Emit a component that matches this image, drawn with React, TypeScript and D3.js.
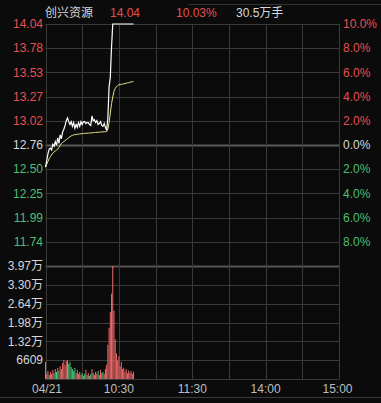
import React from "react";
import * as d3 from "d3";

const W = 381;
const H = 403;

const stockName = "创兴资源";
const lastPrice = "14.04";
const lastPct = "10.03%";
const totalVol = "30.5万手";
const preClose = 12.7636;

const priceTickLabels = ["14.04", "13.78", "13.53", "13.27", "13.02", "12.76", "12.50", "12.25", "11.99", "11.74"];
const pctTickValues = [10, 8, 6, 4, 2, 0, -2, -4, -6, -8];
const pctTickLabels = ["10.0%", "8.0%", "6.0%", "4.0%", "2.0%", "0.0%", "2.0%", "4.0%", "6.0%", "8.0%"];
const volTickValues = [39700, 33000, 26400, 19800, 13200, 6609];
const volTickLabels = ["3.97万", "3.30万", "2.64万", "1.98万", "1.32万", "6609"];
const timeTickMinutes = [0, 60, 120, 180, 240];
const timeTickLabels = ["04/21", "10:30", "11:30", "14:00", "15:00"];

// minute-by-minute price (from 9:30)
const prices = [
  12.53, 12.6, 12.67, 12.72, 12.73, 12.71, 12.77, 12.75, 12.8, 12.76,
  12.84, 12.78, 12.87, 12.83, 12.9, 12.93, 12.97, 13.02, 13.05, 13.01,
  12.98, 13.01, 12.96, 13.0, 12.94, 12.98, 12.95, 13.0, 12.96, 13.01,
  12.98, 13.01, 13.01, 12.99, 13.0, 13.0, 12.98, 12.97, 13.07, 13.02,
  13.03, 13.0, 13.02, 12.98, 12.99, 13.01, 12.97, 12.96, 12.99, 12.95,
  12.92, 13.05, 13.38, 13.48, 13.8, 14.04, 14.04, 14.04, 14.04, 14.04,
  14.04, 14.04, 14.04, 14.04, 14.04, 14.04, 14.04, 14.04, 14.04, 14.04,
  14.04, 14.04, 14.04,
];

const avgPrices = [
  12.53, 12.56, 12.59, 12.62, 12.64, 12.66, 12.68, 12.69, 12.7, 12.71,
  12.72, 12.74, 12.76, 12.78, 12.79, 12.8, 12.81, 12.82, 12.83, 12.84,
  12.85, 12.86, 12.865, 12.87, 12.872, 12.875, 12.877, 12.879, 12.88, 12.882,
  12.884, 12.885, 12.886, 12.887, 12.888, 12.889, 12.89, 12.89, 12.892, 12.894,
  12.895, 12.896, 12.897, 12.898, 12.899, 12.9, 12.901, 12.902, 12.903, 12.904,
  12.905, 12.93, 13.0, 13.1, 13.2, 13.27, 13.33, 13.36, 13.38, 13.39,
  13.4, 13.4, 13.405, 13.405, 13.41, 13.41, 13.415, 13.42, 13.42, 13.425,
  13.43, 13.43, 13.435,
];

const volumes = [
  6000, 1800, 2800, 1400, 2500, 1800, 3200, 2100, 3500, 2500,
  3900, 2800, 4500, 3500, 5600, 6700, 4900, 6300, 6600, 5300,
  6000, 4200, 3500, 2800, 3900, 2100, 3200, 1800, 2500, 1400,
  2100, 1100, 1800, 3200, 1400, 2100, 1100, 1800, 3500, 2100,
  1400, 2500, 1800, 2800, 1400, 3200, 2100, 2500, 1800, 3500,
  5000, 12000, 18000, 23500, 30000, 39700, 24000, 14000, 9000, 6500,
  8000, 4500, 6000, 3500, 4000, 2500, 3500, 2000, 3000, 2200,
  2800, 1800, 2600,
];

// 1 = up (red), 0 = down (green)
const volDir = [
  1, 1, 1, 0, 1, 0, 1, 0, 1, 0,
  1, 0, 1, 0, 1, 1, 1, 1, 0, 0,
  0, 0, 0, 0, 0, 1, 0, 1, 0, 1,
  0, 1, 0, 1, 0, 1, 0, 0, 1, 0,
  1, 0, 1, 0, 1, 1, 0, 0, 1, 0,
  1, 1, 1, 1, 1, 1, 1, 1, 1, 1,
  1, 1, 1, 1, 1, 1, 1, 1, 1, 1,
  1, 1, 1,
];

const BG = "#0b0b0b";
const GRID = "#3a3a3a";
const RED = "#e5504f";
const GREEN = "#4fbf73";
const WHITE = "#d8d8d8";
const FONT = "'Liberation Sans', Arial, 'Noto Sans CJK SC', sans-serif";

export default function App() {
  const left = 45.5;
  const right = 339;
  const priceTop = 24;
  const priceBottom = 266;
  const volTop = 266;
  const volBottom = 379;

  const x = d3.scaleLinear().domain([0, 240]).range([left, right]);
  const yPrice = d3.scaleLinear().domain([preClose * 0.9, preClose * 1.1]).range([priceBottom, priceTop]);
  const yPct = d3.scaleLinear().domain([-10, 10]).range([priceBottom, priceTop]);
  const yVol = d3.scaleLinear().domain([0, 39700]).range([volBottom, volTop]);

  const priceLine = d3.line<number>().x((_, i) => x(i)).y((d) => yPrice(d));
  const verticals = d3.range(0, 241, 30);

  const tickColor = (v: number) => (v > 0 ? RED : v < 0 ? GREEN : WHITE);

  return (
    <svg
      width={W}
      height={H}
      style={{ position: "absolute", left: 0, top: 0, background: BG, display: "block" }}
      fontFamily={FONT}
    >
      <rect x={0} y={0} width={W} height={H} fill={BG} />
      {/* top separator */}
      <line x1={188} x2={W} y1={4.5} y2={4.5} stroke="#333" strokeWidth={1} />
      {/* header */}
      <text x={45} y={17} fontSize={12} fill={WHITE}>{stockName}</text>
      <text x={110} y={17} fontSize={12} fill={RED}>{lastPrice}</text>
      <text x={176} y={17} fontSize={12} fill={RED}>{lastPct}</text>
      <text x={236} y={17} fontSize={12} fill={WHITE}>{totalVol}</text>

      {/* price grid horizontals */}
      {pctTickValues.map((v) => (
        <line
          key={"h" + v}
          x1={left}
          x2={right}
          y1={Math.round(yPct(v)) + 0.5}
          y2={Math.round(yPct(v)) + 0.5}
          stroke={v === 0 ? "#5a5a5a" : GRID}
          strokeWidth={v === 0 ? 2 : 1}
        />
      ))}
      {/* price/volume separator */}
      <line x1={left} x2={right} y1={volTop + 0.5} y2={volTop + 0.5} stroke="#555" strokeWidth={2} />
      {/* volume grid */}
      {volTickValues.slice(1).map((v) => (
        <line
          key={"v" + v}
          x1={left}
          x2={right}
          y1={Math.round(yVol(v)) + 0.5}
          y2={Math.round(yVol(v)) + 0.5}
          stroke={GRID}
          strokeWidth={1}
        />
      ))}
      <line x1={left} x2={right} y1={volBottom + 0.5} y2={volBottom + 0.5} stroke={GRID} strokeWidth={1} />
      {/* verticals */}
      {verticals.map((m) => (
        <line
          key={"x" + m}
          x1={Math.round(x(m)) + 0.5}
          x2={Math.round(x(m)) + 0.5}
          y1={priceTop}
          y2={volBottom}
          stroke={GRID}
          strokeWidth={1}
        />
      ))}

      {/* left price labels */}
      {pctTickValues.map((v, i) => (
        <text
          key={"pl" + v}
          x={43}
          y={yPct(v)}
          dy="0.35em"
          textAnchor="end"
          fontSize={12}
          fill={tickColor(v)}
        >
          {priceTickLabels[i]}
        </text>
      ))}
      {/* right pct labels */}
      {pctTickValues.map((v, i) => (
        <text
          key={"pr" + v}
          x={343}
          y={yPct(v)}
          dy="0.35em"
          textAnchor="start"
          fontSize={12}
          fill={tickColor(v)}
        >
          {pctTickLabels[i]}
        </text>
      ))}
      {/* volume labels */}
      {volTickValues.map((v, i) => (
        <text
          key={"vl" + v}
          x={43}
          y={yVol(v)}
          dy="0.35em"
          textAnchor="end"
          fontSize={12}
          fill={WHITE}
        >
          {volTickLabels[i]}
        </text>
      ))}

      {/* volume bars */}
      {volumes.map((v, i) => (
        <rect
          key={"b" + i}
          x={x(i) - 0.5}
          y={yVol(v)}
          width={1}
          height={volBottom - yVol(v)}
          fill={volDir[i] ? "#f06a6a" : "#4fc27a"}
        />
      ))}

      {/* avg line */}
      <path d={priceLine(avgPrices) || ""} fill="none" stroke="#e8e28a" strokeWidth={1} />
      {/* price line */}
      <path d={priceLine(prices) || ""} fill="none" stroke="#ffffff" strokeWidth={1.2} />

      {/* time labels */}
      {timeTickMinutes.map((m, i) => (
        <text
          key={"t" + m}
          x={x(m) + (i === 0 ? 1.5 : i === timeTickMinutes.length - 1 ? -1.5 : 0)}
          y={389}
          dy="0.35em"
          textAnchor="middle"
          fontSize={12}
          fill="#bdbdbd"
        >
          {timeTickLabels[i]}
        </text>
      ))}
      {/* bottom separator */}
      <line x1={0} x2={W} y1={397.5} y2={397.5} stroke="#3a3a3a" strokeWidth={1} />
    </svg>
  );
}
